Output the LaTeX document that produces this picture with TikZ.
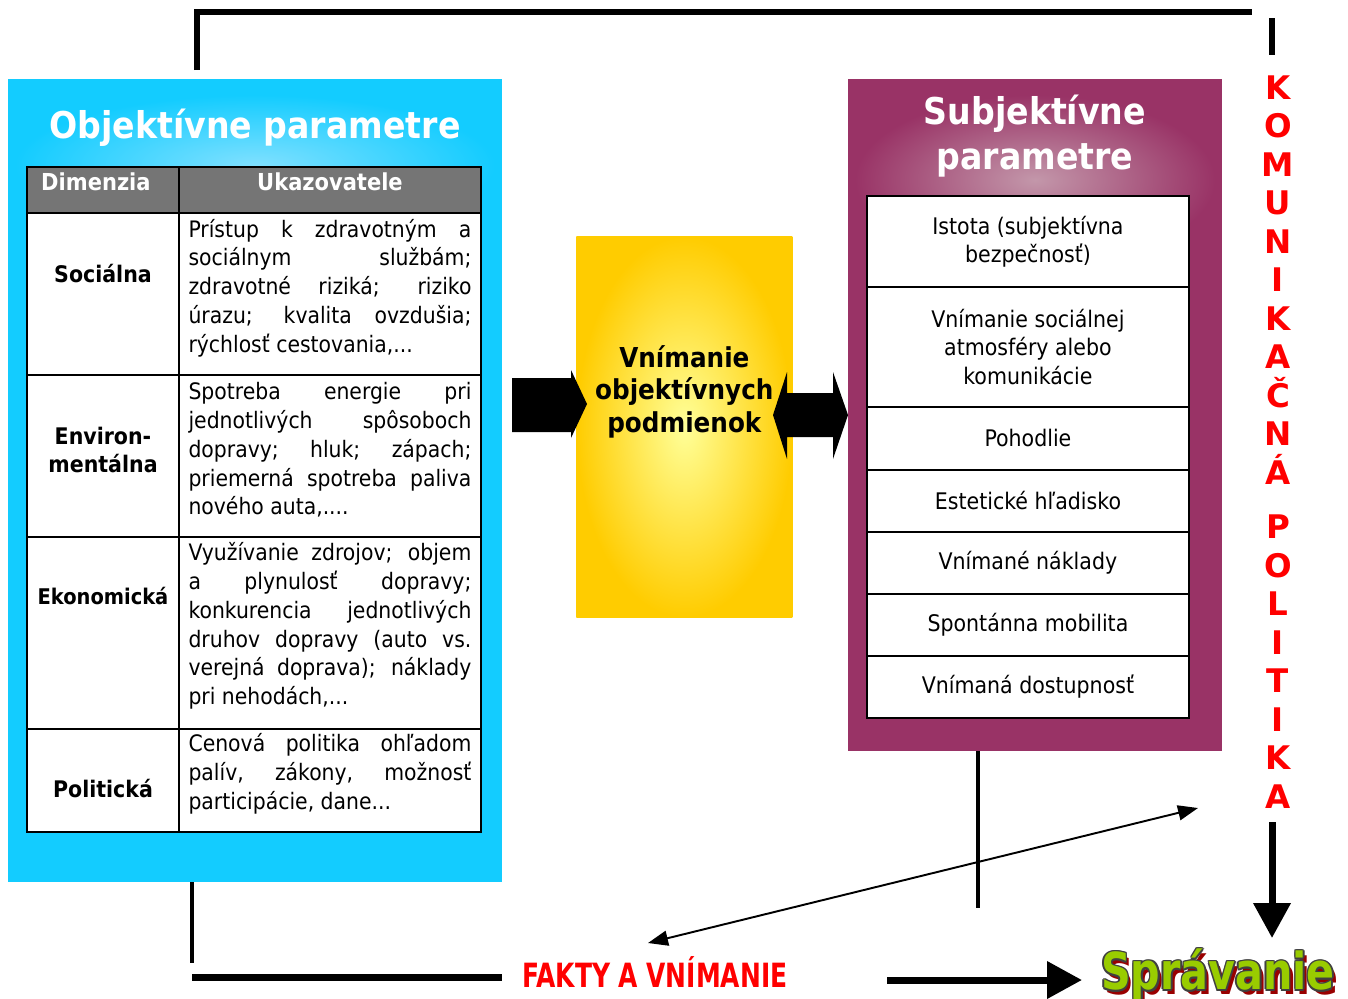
\documentclass[tikz,border=0pt]{standalone}
\usepackage{fontspec}
\setmainfont{DejaVu Sans Condensed}
\newfontfamily\widefont{DejaVu Sans}
\usetikzlibrary{arrows.meta,positioning}
\definecolor{cyanbox}{HTML}{13CCFF}
\definecolor{cyanlight}{HTML}{7FE0FF}
\definecolor{purplebox}{HTML}{993366}
\definecolor{purplelight}{HTML}{C397AA}
\definecolor{headgray}{HTML}{757575}
\definecolor{yeldark}{HTML}{FFCC00}
\definecolor{yellight}{HTML}{FFFF99}
\definecolor{sprgreen}{HTML}{99CC00}
\definecolor{sprshadow}{HTML}{990000}
\definecolor{sprline}{HTML}{404040}
\newcommand{\glowword}[1]{%
  \rlap{\kern2.4pt\raisebox{-2.4pt}{\textcolor{sprshadow}{#1}}}%
  \rlap{\kern1pt\textcolor{sprline}{#1}}\rlap{\kern-1pt\textcolor{sprline}{#1}}%
  \rlap{\raisebox{1pt}{\textcolor{sprline}{#1}}}\rlap{\raisebox{-1pt}{\textcolor{sprline}{#1}}}%
  \rlap{\kern0.7pt\raisebox{0.7pt}{\textcolor{sprline}{#1}}}\rlap{\kern-0.7pt\raisebox{-0.7pt}{\textcolor{sprline}{#1}}}%
  \rlap{\kern0.7pt\raisebox{-0.7pt}{\textcolor{sprline}{#1}}}\rlap{\kern-0.7pt\raisebox{0.7pt}{\textcolor{sprline}{#1}}}%
  \textcolor{sprgreen}{#1}}
\tikzset{
  cell/.style={draw, line width=1.4pt, anchor=north west, inner sep=0pt, outer sep=0pt, fill=white},
  hdr/.style={cell, fill=headgray},
  hdrtext/.style={text=white, font=\bfseries\fontsize{13.3}{15}\selectfont},
  body/.style={text width=5.66cm, align=justify, inner sep=0pt, font=\fontsize{12.9}{16.4}\selectfont},
  dim/.style={align=center, font=\bfseries\fontsize{13}{16.4}\selectfont},
  item/.style={draw, line width=1.2pt, fill=white, minimum width=6.44cm, inner sep=0pt, outer sep=0pt,
    align=center, font=\fontsize{13}{16.2}\selectfont},
  heavy/.style={line width=3.4pt},
  arrowhead/.style={-{Triangle[length=0.7cm, width=0.72cm]}},
}
\begin{document}
\begin{tikzpicture}[x=0.02cm, y=-0.02cm]
\useasboundingbox (0,0) rectangle (1348,998);

% blue box with the objective parameters
\node[fill=cyanbox, minimum width=9.88cm, minimum height=16.06cm, anchor=north west, inner sep=0pt] (obj) at (8,79) {};
\shade[inner color=cyanlight, outer color=cyanbox] (15,95) rectangle (495,235);
\node[text=white, font=\bfseries\fontsize{21}{25}\selectfont] (objtitle) at (255,128) {Objektívne parametre};

\node[hdr, minimum width=3.04cm, minimum height=0.92cm] (hd) at (27,167) {};
\node[hdr, minimum width=6.04cm, minimum height=0.92cm] (hu) at (179,167) {};
\node[hdrtext, anchor=west] at (35,182) {Dimenzia};
\node[hdrtext] at (330,182) {Ukazovatele};

\node[cell, minimum width=3.04cm, minimum height=3.24cm] (d1) at (27,213) {};
\node[cell, minimum width=6.04cm, minimum height=3.24cm] (u1) at (179,213) {};
\node[cell, minimum width=3.04cm, minimum height=3.24cm] (d2) at (27,375) {};
\node[cell, minimum width=6.04cm, minimum height=3.24cm] (u2) at (179,375) {};
\node[cell, minimum width=3.04cm, minimum height=3.84cm] (d3) at (27,537) {};
\node[cell, minimum width=6.04cm, minimum height=3.84cm] (u3) at (179,537) {};
\node[cell, minimum width=3.04cm, minimum height=2.06cm] (d4) at (27,729) {};
\node[cell, minimum width=6.04cm, minimum height=2.06cm] (u4) at (179,729) {};

\node[dim] (soc) at (103,274) {Sociálna};
\node[dim] (env) at (103,450) {Environ-\\mentálna};
\node[dim, font=\bfseries\fontsize{12.3}{14}\selectfont] (eko) at (103,596) {Ekonomická};
\node[dim] (pol) at (103,789) {Politická};

\node[body] (t1) at (330,288) {Prístup k zdravotným a\linebreak sociálnym službám;\linebreak zdravotné riziká; riziko\linebreak úrazu; kvalita ovzdušia;\linebreak rýchlosť cestovania,...};
\node[body] (t2) at (330,450) {Spotreba energie pri\linebreak jednotlivých spôsoboch\linebreak dopravy; hluk; zápach;\linebreak priemerná spotreba paliva\linebreak nového auta,....};
\node[body] (t3) at (330,626) {Využívanie zdrojov; objem\linebreak a plynulosť dopravy;\linebreak konkurencia jednotlivých\linebreak druhov dopravy (auto vs.\linebreak verejná doprava); náklady\linebreak pri nehodách,...};
\node[body] (t4) at (330,774) {Cenová politika ohľadom\linebreak palív, zákony, možnosť\linebreak participácie, dane...};

% yellow box in the middle
\node[inner color=yellight, outer color=yeldark, minimum width=4.32cm, minimum height=7.62cm, anchor=north west, inner sep=0pt] (per) at (576,236) {};
\node[align=center, font=\bfseries\fontsize{15.6}{18.4}\selectfont] (pertext) at ([yshift=0.7cm]per.center) {Vnímanie\\objektívnych\\podmienok};

% purple box with the subjective parameters
\node[fill=purplebox, minimum width=7.48cm, minimum height=13.44cm, anchor=north west, inner sep=0pt] (subj) at (848,79) {};
\shade[inner color=purplelight, outer color=purplebox] (855,95) rectangle (1215,265);
\node[text=white, align=center, font=\bfseries\fontsize{21}{25.5}\selectfont] (subjtitle) at (1035,136) {Subjektívne\\parametre};

\node[item, minimum height=1.82cm, anchor=north west] (i1) at (867,196) {Istota (subjektívna\\bezpečnosť)};
\node[item, minimum height=2.40cm, below=0pt of i1] (i2) {Vnímanie sociálnej\\atmosféry alebo\\komunikácie};
\node[item, minimum height=1.26cm, below=0pt of i2] (i3) {Pohodlie};
\node[item, minimum height=1.24cm, below=0pt of i3] (i4) {Estetické hľadisko};
\node[item, minimum height=1.24cm, below=0pt of i4] (i5) {Vnímané náklady};
\node[item, minimum height=1.24cm, below=0pt of i5] (i6) {Spontánna mobilita};
\node[item, minimum height=1.24cm, below=0pt of i6] (i7) {Vnímaná dostupnosť};

% block arrows
\fill (512,378) -- (571,378) -- (571,370) -- (587,404) -- (571,438) -- (571,432) -- (512,432) -- cycle;
\fill (773,415) -- (787,372) -- (787,393) -- (833,393) -- (833,372) -- (848,415)
  -- (833,459) -- (833,437) -- (787,437) -- (787,459) -- cycle;

% right column
\node[text=red, align=center, inner sep=0pt, font=\widefont\bfseries\fontsize{18.5}{21.9}\selectfont] (kom) at (1278,442)
  {K\\O\\M\\U\\N\\I\\K\\A\\Č\\N\\Á\\[9.2pt]P\\O\\L\\I\\T\\I\\K\\A};

\node[text=red, font=\bfseries\fontsize{19}{22}\selectfont] (fakty) at (655,972) {\scalebox{0.83}[1]{FAKTY A VNÍMANIE}};
\node[font=\bfseries\fontsize{29}{32}\selectfont, inner sep=0pt] (spr) at (1218,976) {\scalebox{0.9}[1]{\glowword{Správanie}}};

% connectors
\coordinate (objtop) at (197,70);
\coordinate (komtop) at (1252,12);
\coordinate (komstart) at (1272,18);
\coordinate (komend) at (1272,55);
\coordinate (kombot) at (1272,822);
\coordinate (sprtop) at (1272,938);
\coordinate (objbot) at (192,882);
\coordinate (objfoot) at (192,963);
\coordinate (lineL) at (192,977);
\coordinate (lineR) at (502,977);
\coordinate (subjbot) at (978,751);
\coordinate (subjfoot) at (978,908);
\coordinate (arrL) at (887,980);
\coordinate (arrR) at (1082,980);
\coordinate (diagA) at (648,943);
\coordinate (diagB) at (1198,808);

\draw[heavy] (objtop) |- (komtop);
\draw[heavy] (komstart) -- (komend);
\draw[line width=4pt, arrowhead] (kombot) -- (sprtop);
\draw[line width=2.8pt] (objbot) -- (objfoot);
\draw[line width=4pt] (lineL) -- (lineR);
\draw[line width=2.8pt] (subjbot) -- (subjfoot);
\draw[line width=4pt, arrowhead] (arrL) -- (arrR);
\draw[line width=1.1pt, {Triangle[length=0.4cm, width=0.3cm]}-{Triangle[length=0.4cm, width=0.3cm]}] (diagA) -- (diagB);
\end{tikzpicture}
\end{document}
